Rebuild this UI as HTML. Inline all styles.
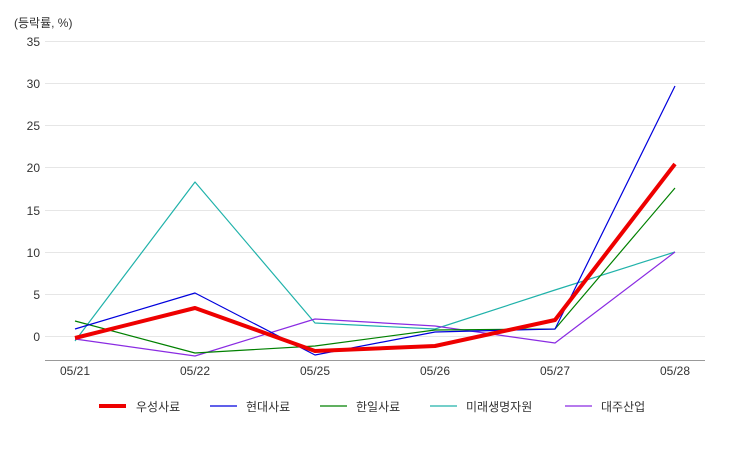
<!DOCTYPE html>
<html><head><meta charset="utf-8"><style>
body{margin:0;background:#fff;}
svg text{font-family:"Liberation Sans","Noto Sans CJK KR",sans-serif;}
</style></head><body>
<svg width="750" height="450" xmlns="http://www.w3.org/2000/svg">
<text x="14" y="27" font-size="12" fill="#333">(등락률, %)</text>
<g stroke="#e6e6e6" stroke-width="1">
<line x1="45" x2="705" y1="41.5" y2="41.5"/>
<line x1="45" x2="705" y1="83.5" y2="83.5"/>
<line x1="45" x2="705" y1="125.5" y2="125.5"/>
<line x1="45" x2="705" y1="167.5" y2="167.5"/>
<line x1="45" x2="705" y1="210.5" y2="210.5"/>
<line x1="45" x2="705" y1="252.5" y2="252.5"/>
<line x1="45" x2="705" y1="294.5" y2="294.5"/>
<line x1="45" x2="705" y1="336.5" y2="336.5"/>
</g>
<line x1="45" x2="705" y1="360.5" y2="360.5" stroke="#999"/>
<g font-size="12" fill="#333" text-anchor="end">
<text x="40" y="46">35</text><text x="40" y="88">30</text><text x="40" y="130">25</text>
<text x="40" y="172">20</text><text x="40" y="215">15</text><text x="40" y="257">10</text>
<text x="40" y="299">5</text><text x="40" y="341">0</text>
</g>
<g font-size="12" fill="#333" text-anchor="middle">
<text x="75" y="375">05/21</text><text x="195" y="375">05/22</text><text x="315" y="375">05/25</text>
<text x="435" y="375">05/26</text><text x="555" y="375">05/27</text><text x="675" y="375">05/28</text>
</g>
<g fill="none" stroke-linejoin="round">
<polyline stroke="#20b2aa" stroke-width="1.2" points="75,341 195,182 315,323 435,329 555,290 675,252"/>
<polyline stroke="#8a2be2" stroke-width="1.2" points="75,339 195,356 315,319 435,326 555,343 675,252"/>
<polyline stroke="#008000" stroke-width="1.2" points="75,321 195,353 315,346 435,330 555,329 675,188"/>
<polyline stroke="#0000dd" stroke-width="1.2" points="75,329 195,293 315,355 435,332 555,329 675,86"/>
<polyline stroke="#ee0000" stroke-width="4" points="75,338 195,308 315,351 435,346 555,320 675,164"/>
</g>
<g font-size="12" fill="#333">
<line x1="99" x2="126" y1="406" y2="406" stroke="#ee0000" stroke-width="4"/><text x="136" y="411">우성사료</text>
<line x1="210" x2="237" y1="406" y2="406" stroke="#0000dd" stroke-width="1.2"/><text x="246" y="411">현대사료</text>
<line x1="320" x2="347" y1="406" y2="406" stroke="#008000" stroke-width="1.2"/><text x="356" y="411">한일사료</text>
<line x1="430" x2="457" y1="406" y2="406" stroke="#20b2aa" stroke-width="1.2"/><text x="466" y="411">미래생명자원</text>
<line x1="565" x2="592" y1="406" y2="406" stroke="#8a2be2" stroke-width="1.2"/><text x="601" y="411">대주산업</text>
</g>
</svg>
</body></html>
